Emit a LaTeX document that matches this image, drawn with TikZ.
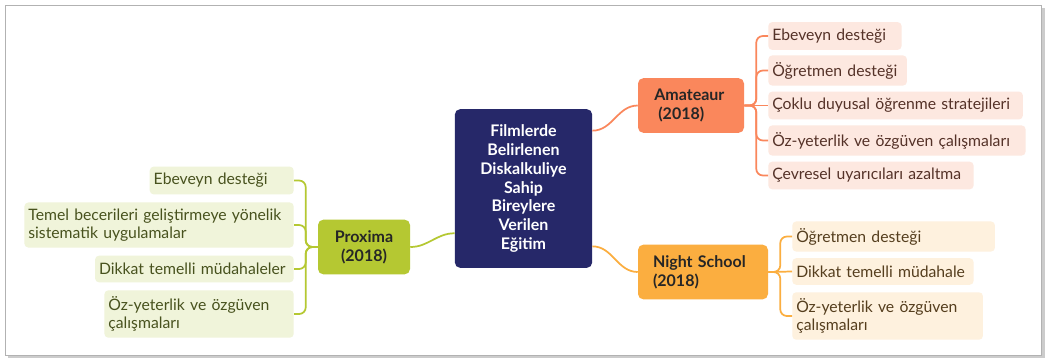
\documentclass[tikz,border=0pt]{standalone}
\usepackage{fontspec}
\setmainfont{Lato}
\definecolor{navy}{RGB}{38,40,105}
\definecolor{amcol}{RGB}{250,135,92}
\definecolor{amleaf}{RGB}{253,232,224}
\definecolor{amtext}{RGB}{85,50,40}
\definecolor{nscol}{RGB}{251,174,64}
\definecolor{nsleaf}{RGB}{254,241,222}
\definecolor{nstext}{RGB}{85,62,30}
\definecolor{pxcol}{RGB}{181,200,50}
\definecolor{pxleaf}{RGB}{240,244,218}
\definecolor{pxtext}{RGB}{72,82,30}
\tikzset{
  hub/.style={fill=navy,text=white,rounded corners=4pt,align=center,
    minimum width=103pt,minimum height=119pt,
    font=\bfseries\fontsize{12}{14.2}\selectfont},
  topic/.style={rounded corners=4pt,text=black!85,minimum height=41pt,
    font=\bfseries\fontsize{12}{14.5}\selectfont},
  leaf/.style={rounded corners=3pt,align=left,inner xsep=3pt,inner ysep=5pt,
    minimum height=20pt,text width=#1,font=\fontsize{11.8}{13}\selectfont},
  amleafbox/.style={leaf=#1,fill=amleaf,text=amtext,anchor=west},
  nsleafbox/.style={leaf=#1,fill=nsleaf,text=nstext,anchor=west},
  pxleafbox/.style={leaf=#1,fill=pxleaf,text=pxtext,anchor=east},
  amline/.style={draw=amcol,line width=1.3pt,rounded corners=5pt},
  nsline/.style={draw=nscol,line width=1.3pt,rounded corners=5pt},
  pxline/.style={draw=pxcol,line width=1.3pt,rounded corners=5pt}
}
\begin{document}
\begin{tikzpicture}[x=0.75pt,y=-0.75pt]
\useasboundingbox (0,0) rectangle (1048,361);
% frame
\fill[gray!40] (8,8) rectangle (1045,358);
\draw[gray!60,fill=white] (5,5) rectangle (1041,355);
% centre
\node[hub] (ctr) at (523.5,188.5) {Filmlerde\\Belirlenen\\Diskalkuliye\\Sahip\\Bireylere\\Verilen\\Eğitim};
% amateaur
\node[topic,fill=amcol,align=left,minimum width=79.5pt,inner xsep=12pt,text width=55pt] (am) at (691,105.5) {Amateaur\\\hspace*{3pt}(2018)};
\node[amleafbox=94pt] (am1) at (768,36) {Ebeveyn desteği};
\node[amleafbox=98pt] (am2) at (768,70.5) {Öğretmen desteği};
\node[amleafbox=185pt] (am3) at (768,105.5) {Çoklu duyusal öğrenme stratejileri};
\node[amleafbox=187pt] (am4) at (768,140.5) {Öz-yeterlik ve özgüven çalışmaları};
\node[amleafbox=148pt] (am5) at (768,175.5) {Çevresel uyarıcıları azaltma};
\draw[amline] (ctr.40) to[out=0,in=180] (am.west);
\draw[amline] (am.east) -- ++(12,0) |- (am1.west);
\draw[amline] (am.east) -- ++(12,0) |- (am2.west);
\draw[amline] (am.east) -- (am3.west);
\draw[amline] (am.east) -- ++(12,0) |- (am4.west);
\draw[amline] (am.east) -- ++(12,0) |- (am5.west);
% night school
\node[topic,fill=nscol,align=left,minimum width=97.5pt,inner xsep=11pt,text width=75pt] (ns) at (703,272) {Night School\\(2018)};
\node[nsleafbox=146pt] (ns1) at (792,236.5) {Öğretmen desteği};
\node[nsleafbox=130pt] (ns2) at (792,271.5) {Dikkat temelli müdahale};
\node[nsleafbox=137pt] (ns3) at (792,316) {Öz-yeterlik ve özgüven\\çalışmaları};
\draw[nsline] (ctr.-40) to[out=0,in=180] (ns.west);
\draw[nsline] (ns.east) -- ++(12,0) |- (ns1.west);
\draw[nsline] (ns.east) -- (ns2.west);
\draw[nsline] (ns.east) -- ++(12,0) |- (ns3.west);
% proxima
\node[topic,fill=pxcol,align=center,minimum width=69pt] (px) at (364,247) {Proxima\\(2018)};
\node[pxleafbox=102pt] (px1) at (294,180.5) {Ebeveyn desteği};
\node[pxleafbox=196pt] (px2) at (294,225) {Temel becerileri geliştirmeye yönelik\\sistematik uygulamalar};
\node[pxleafbox=143pt] (px3) at (294,269) {Dikkat temelli müdahaleler};
\node[pxleafbox=136pt] (px4) at (294,314) {Öz-yeterlik ve özgüven\\çalışmaları};
\draw[pxline] (ctr.213) to[out=180,in=0] (px.east);
\draw[pxline] (px.west) -- ++(-12,0) |- (px1.east);
\draw[pxline] (px.west) -- ++(-12,0) |- (px2.east);
\draw[pxline] (px.west) -- ++(-12,0) |- (px3.east);
\draw[pxline] (px.west) -- ++(-12,0) |- (px4.east);
\end{tikzpicture}
\end{document}
